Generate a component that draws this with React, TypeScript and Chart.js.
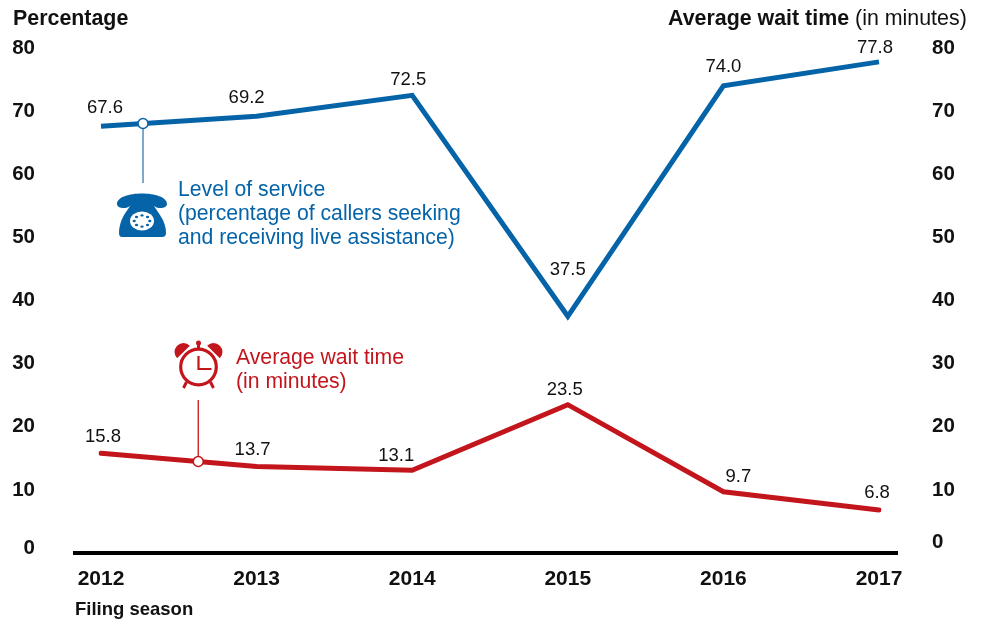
import React, { useEffect, useRef } from "react";
import { Chart, registerables } from "chart.js";
Chart.register(...registerables);

const seasons = ["2012", "2013", "2014", "2015", "2016", "2017"];
const service = [67.6, 69.2, 72.5, 37.5, 74.0, 77.8];
const wait = [15.8, 13.7, 13.1, 23.5, 9.7, 6.8];
const ticks = [0, 10, 20, 30, 40, 50, 60, 70, 80];
const serviceLabelShift = [[4, -18], [-10, -18], [-4, -15], [0, -46], [0, -19], [-4, -14]];
const waitLabelShift = [[2, -16], [-4, -17], [-16, -14], [-3, -15], [15, -15], [-2, -17]];
const serviceColor = "#0563a8";
const waitColor = "#c3161c";
const ink = "#111";
const font = "Arial, 'Liberation Sans', sans-serif";

const labelsPlugin = {
  id: "labels",
  afterDatasetsDraw(chart: any) {
    const { ctx, scales } = chart;
    const x = scales.x, y = scales.y;
    ctx.save();
    ctx.font = `18.5px ${font}`;
    ctx.fillStyle = ink;
    ctx.textAlign = "center";
    ctx.textBaseline = "middle";
    service.forEach((v, i) => ctx.fillText(v.toFixed(1), x.getPixelForValue(i) + serviceLabelShift[i][0], y.getPixelForValue(v) + serviceLabelShift[i][1]));
    wait.forEach((v, i) => ctx.fillText(v.toFixed(1), x.getPixelForValue(i) + waitLabelShift[i][0], y.getPixelForValue(v) + waitLabelShift[i][1]));

    // zero tick labels sit above the baseline in the original
    ctx.font = `bold 20.5px ${font}`;
    ctx.textAlign = "right";
    ctx.fillText("0", 35, y.getPixelForValue(0) - 5);
    ctx.textAlign = "left";
    ctx.fillText("0", 932, y.getPixelForValue(0) - 11);
    ctx.textBaseline = "alphabetic";

    // leaders
    const x0 = x.getPixelForValue(0), x1 = x.getPixelForValue(1);
    const sx = x0 + (x1 - x0) * 0.27;
    const sy = y.getPixelForValue(service[0] + (service[1] - service[0]) * 0.27);
    const wx = x0 + (x1 - x0) * 0.625;
    const wy = y.getPixelForValue(wait[0] + (wait[1] - wait[0]) * 0.625);

    ctx.lineWidth = 1.3;
    ctx.strokeStyle = "#3a7bb0";
    ctx.beginPath(); ctx.moveTo(sx, sy); ctx.lineTo(sx, 183); ctx.stroke();
    ctx.strokeStyle = serviceColor;
    ctx.lineWidth = 1.5;
    ctx.beginPath(); ctx.arc(sx, sy, 5, 0, Math.PI * 2); ctx.fillStyle = "#fff"; ctx.fill(); ctx.stroke();
    ctx.strokeStyle = waitColor;
    ctx.lineWidth = 1.3;
    ctx.beginPath(); ctx.moveTo(wx, wy); ctx.lineTo(wx, 400); ctx.stroke();
    ctx.lineWidth = 1.5;
    ctx.beginPath(); ctx.arc(wx, wy, 5, 0, Math.PI * 2); ctx.fillStyle = "#fff"; ctx.fill(); ctx.stroke();

    // phone icon
    const px = 142;
    ctx.fillStyle = serviceColor;
    ctx.beginPath();
    ctx.moveTo(117, 204);
    ctx.bezierCurveTo(117, 190, 167, 190, 167, 204);
    ctx.bezierCurveTo(167, 209, 157, 209, 154, 206);
    ctx.lineTo(130, 206);
    ctx.bezierCurveTo(127, 209, 117, 209, 117, 204);
    ctx.closePath();
    ctx.fill();
    ctx.beginPath();
    ctx.moveTo(132, 203);
    ctx.lineTo(152, 203);
    ctx.lineTo(160, 215);
    ctx.quadraticCurveTo(166, 224, 166, 233);
    ctx.quadraticCurveTo(166, 237, 162, 237);
    ctx.lineTo(122, 237);
    ctx.quadraticCurveTo(119, 237, 119, 233);
    ctx.quadraticCurveTo(119, 224, 124, 215);
    ctx.closePath();
    ctx.fill();
    ctx.fillStyle = "#fff";
    ctx.beginPath(); ctx.ellipse(px, 221, 12, 9.5, 0, 0, Math.PI * 2); ctx.fill();
    ctx.fillStyle = serviceColor;
    for (let a = 0; a < 8; a++) {
      ctx.beginPath();
      ctx.ellipse(px + 7.8 * Math.cos((a * Math.PI) / 4), 221 + 5.6 * Math.sin((a * Math.PI) / 4), 1.6, 1.2, 0, 0, Math.PI * 2);
      ctx.fill();
    }

    // clock icon
    const cx = 198.5, cy = 367;
    ctx.strokeStyle = waitColor;
    ctx.fillStyle = waitColor;
    ctx.lineWidth = 3.2;
    ctx.beginPath(); ctx.arc(cx, cy, 17.8, 0, Math.PI * 2); ctx.stroke();
    ctx.lineWidth = 2.2;
    ctx.beginPath(); ctx.moveTo(cx, cy - 11); ctx.lineTo(cx, cy + 2); ctx.lineTo(cx + 13, cy + 2); ctx.stroke();
    ctx.beginPath(); ctx.arc(cx - 15, cy - 15, 9, Math.PI * 0.75, Math.PI * 1.75); ctx.closePath(); ctx.fill();
    ctx.beginPath(); ctx.arc(cx + 15, cy - 15, 9, Math.PI * 1.25, Math.PI * 2.25); ctx.closePath(); ctx.fill();
    ctx.fillRect(cx - 1.5, cy - 23, 3, 4);
    ctx.beginPath(); ctx.arc(cx, cy - 24, 2.5, 0, Math.PI * 2); ctx.fill();
    ctx.lineWidth = 3;
    ctx.beginPath(); ctx.moveTo(cx - 12, cy + 15); ctx.lineTo(cx - 15, cy + 21); ctx.stroke();
    ctx.beginPath(); ctx.moveTo(cx + 12, cy + 15); ctx.lineTo(cx + 15, cy + 21); ctx.stroke();

    // annotation text
    ctx.textAlign = "left";
    ctx.font = `21.2px ${font}`;
    ctx.fillStyle = serviceColor;
    ctx.fillText("Level of service", 178, 196);
    ctx.fillText("(percentage of callers seeking", 178, 220);
    ctx.fillText("and receiving live assistance)", 178, 244);
    ctx.fillStyle = waitColor;
    ctx.fillText("Average wait time", 236, 364);
    ctx.fillText("(in minutes)", 236, 388);

    // titles
    ctx.fillStyle = ink;
    ctx.font = `bold 21.4px ${font}`;
    ctx.fillText("Percentage", 13, 25);
    const t1 = "Average wait time";
    ctx.fillText(t1, 668, 25);
    const w = ctx.measureText(t1 + " ").width;
    ctx.font = `21.4px ${font}`;
    ctx.fillText("(in minutes)", 668 + w, 25);
    ctx.font = `bold 18.5px ${font}`;
    ctx.fillText("Filing season", 75, 615);

    // baseline
    ctx.fillStyle = "#000";
    ctx.fillRect(73, 551, 825, 4);
    ctx.restore();
  },
};

const skipZero = (v: any) => (Number(v) === 0 ? "" : String(v));
const fitY = (width: number) => (s: any) => {
  s.width = width;
  s.paddingTop = 0;
  s.paddingBottom = 0;
};

export default function App() {
  const ref = useRef<HTMLCanvasElement>(null);
  useEffect(() => {
    const chart = new Chart(ref.current!, {
      type: "line",
      data: {
        labels: seasons,
        datasets: [
          { data: service, borderColor: serviceColor, borderWidth: 5, pointRadius: 0, tension: 0, borderJoinStyle: "miter" },
          { data: wait, borderColor: waitColor, borderWidth: 5, pointRadius: 0, tension: 0, borderJoinStyle: "miter", borderCapStyle: "round" },
          { data: wait, borderWidth: 0, pointRadius: 0, yAxisID: "y2" },
        ],
      },
      options: {
        animation: false,
        responsive: false,
        layout: { padding: { top: 48, left: 0, right: 0, bottom: 0 } },
        plugins: { legend: { display: false }, tooltip: { enabled: false } },
        scales: {
          x: {
            offset: false,
            grid: { display: false, drawTicks: false },
            border: { display: false },
            ticks: { font: { family: font, size: 21, weight: "bold" }, color: ink, padding: 14, maxRotation: 0, autoSkip: false },
            afterFit: (s: any) => { s.height = 69; s.paddingLeft = 0; s.paddingRight = 0; },
          },
          y: {
            min: 0, max: 80,
            afterBuildTicks: (s: any) => { s.ticks = ticks.map((value) => ({ value })); },
            grid: { display: false, drawTicks: false },
            border: { display: false },
            ticks: { font: { family: font, size: 20.5, weight: "bold" }, color: ink, padding: 66, callback: skipZero },
            afterFit: fitY(101),
          },
          y2: {
            position: "right",
            min: 0, max: 80,
            afterBuildTicks: (s: any) => { s.ticks = ticks.map((value) => ({ value })); },
            grid: { display: false, drawTicks: false },
            border: { display: false },
            ticks: { font: { family: font, size: 20.5, weight: "bold" }, color: ink, padding: 53, callback: skipZero },
            afterFit: fitY(104),
          },
        },
      },
      plugins: [labelsPlugin],
    });
    return () => chart.destroy();
  }, []);
  return <canvas ref={ref} width={983} height={622} style={{ position: "absolute", left: 0, top: 0 }} />;
}
